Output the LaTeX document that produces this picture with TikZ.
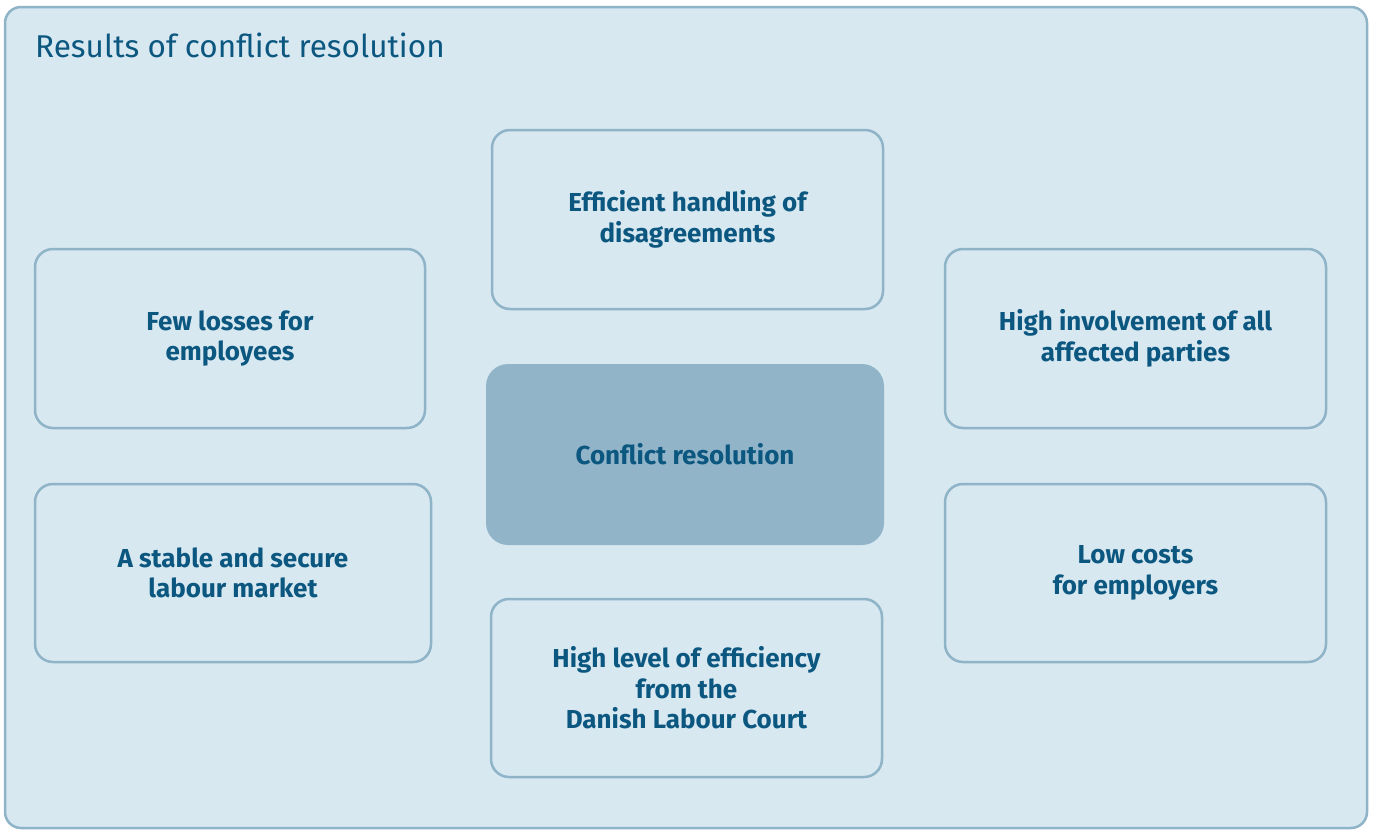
\documentclass[tikz,border=0pt]{standalone}
\usepackage{fontspec}
\setmainfont{Fira Sans}
\definecolor{inkblue}{RGB}{11,87,128}
\definecolor{paleblue}{RGB}{215,232,241}
\definecolor{edgeblue}{RGB}{143,179,199}
\definecolor{coreblue}{RGB}{146,180,200}

\begin{document}
\begin{tikzpicture}[x=1pt,y=-1pt,
    frame/.style={draw=edgeblue, line width=2.5pt, fill=paleblue, rounded corners=16pt},
    result/.style={draw=edgeblue, line width=2.5pt, fill=paleblue, rounded corners=18pt,
      rectangle, align=center, text=inkblue, inner sep=0pt,
      font=\bfseries\fontsize{26}{30.5}\selectfont},
    core/.style={result, draw=none, fill=coreblue, rounded corners=22pt}]
        \useasboundingbox (0,0) rectangle (1374,830);
        \fill[white] (0,0) rectangle (1374,830);
        \draw[frame] (5,7) rectangle (1367,828);
        \node[anchor=base west, text=inkblue, inner sep=0pt,
          font=\fontsize{31.5}{36}\selectfont] (title) at (35,57) {Results of conflict resolution};
        % outer ring of results
        \node[result, minimum width=391pt, minimum height=179pt] (handling) at (687.5,219.5) {Efficient handling of\\disagreements};
        \node[result, minimum width=390pt, minimum height=179pt] (losses) at (230,338.5) {Few losses for\\employees};
        \node[result, minimum width=381pt, minimum height=179pt] (involve) at (1135.5,338.5) {High involvement of all\\affected parties};
        \node[result, minimum width=396pt, minimum height=178pt] (market) at (233,573) {A stable and secure\\labour market};
        \node[result, minimum width=381pt, minimum height=178pt] (costs) at (1135.5,573) {Low costs\\for employers};
        \node[result, minimum width=391pt, minimum height=178pt] (court) at (686.5,688) {High level of efficiency\\from the\\Danish Labour Court};
        % centre
        \node[core, minimum width=398pt, minimum height=181pt] (resolution) at (685,454.5) {Conflict resolution};
\end{tikzpicture}
\end{document}
